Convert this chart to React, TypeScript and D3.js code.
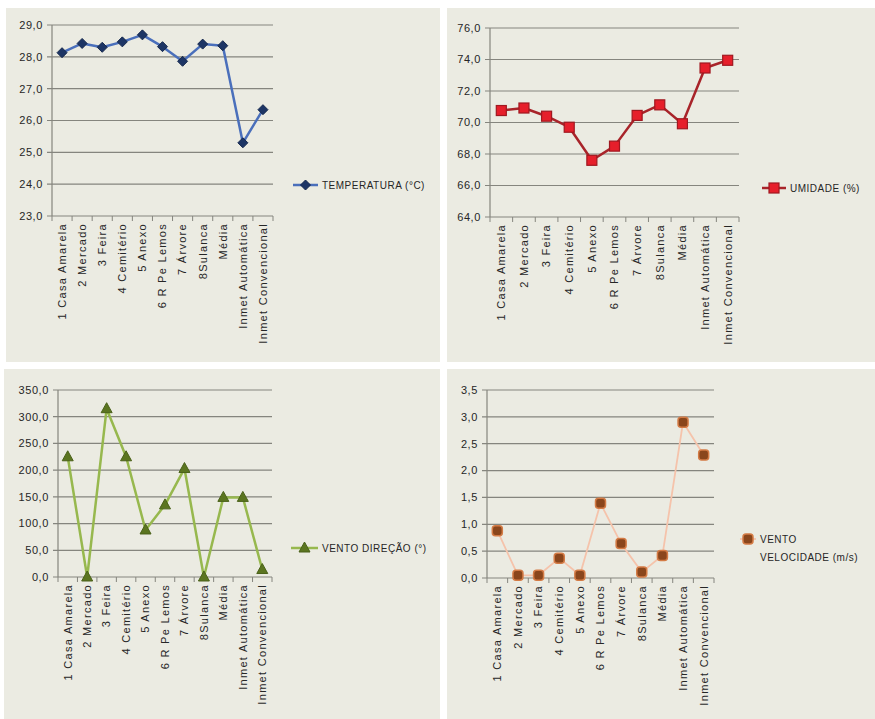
import * as React from 'react'
import * as d3 from 'd3'

// categories shared by the four panels
const stations = [
	'1 Casa Amarela', '2 Mercado', '3 Feira', '4 Cemitério', '5 Anexo', '6 R Pe Lemos',
	'7 Árvore', '8Sulanca', 'Média', 'Inmet Automática', 'Inmet Convencional',
]

const temperatura = [28.13, 28.42, 28.3, 28.47, 28.69, 28.32, 27.86, 28.4, 28.35, 25.3, 26.34]
const umidade = [70.76, 70.92, 70.4, 69.7, 67.6, 68.5, 70.45, 71.12, 69.92, 73.46, 73.95]
const ventoDirecao = [225, 0, 315, 225, 88, 135, 203, 0, 149, 149, 14]
const ventoVelocidade = [0.88, 0.05, 0.05, 0.37, 0.05, 1.39, 0.64, 0.11, 0.42, 2.9, 2.29]

const tempTicks = [23, 24, 25, 26, 27, 28, 29]
const umidTicks = [64, 66, 68, 70, 72, 74, 76]
const dirTicks = [0, 50, 100, 150, 200, 250, 300, 350]
const velTicks = [0, 0.5, 1, 1.5, 2, 2.5, 3, 3.5]

const BG = '#ebebe2'
const GRID = '#85857e'
const TXT = '#262626'
const FONT = '"Liberation Sans", Arial, sans-serif'

type Marker = 'diamond' | 'square' | 'triangle' | 'circle'

interface PanelProps {
	box: { x: number, y: number, w: number, h: number }
	plot: { left: number, right: number, top: number, bottom: number }
	values: number[]
	ticks: number[]
	label: string[]
	legend: { x1: number, x2: number, y: number }
	lineColor: string
	lineWidth: number
	markerFill: string
	markerStroke: string
	marker: Marker
}

function drawMarker(kind: Marker, x: number, y: number, fill: string, stroke: string, key?: any) {
	if (kind === 'diamond')
		return <path key={key} d={`M${x},${y - 5}L${x + 5},${y}L${x},${y + 5}L${x - 5},${y}Z`} fill={fill} stroke={stroke} strokeWidth={1} />
	if (kind === 'square')
		return <rect key={key} x={x - 5} y={y - 5} width={10} height={10} fill={fill} stroke={stroke} strokeWidth={1.2} />
	if (kind === 'triangle')
		return <path key={key} d={`M${x},${y - 6}L${x + 5.5},${y + 4}L${x - 5.5},${y + 4}Z`} fill={fill} stroke={stroke} strokeWidth={1} />
	return <rect key={key} x={x - 5} y={y - 5} width={10} height={10} rx={3} fill={fill} stroke={stroke} strokeWidth={1.5} />
}

const Panel: React.FC<PanelProps> = (p) => {
	const x = d3.scaleBand().domain(stations).range([p.plot.left, p.plot.right])
	const y = d3.scaleLinear()
		.domain([p.ticks[0], p.ticks[p.ticks.length - 1]])
		.range([p.plot.bottom, p.plot.top])
	const cx = (s: string) => x(s)! + x.bandwidth() / 2
	const line = d3.line<number>()
		.x((_, i) => cx(stations[i]))
		.y(d => y(d))
	const fmt = (v: number) => v.toFixed(1).replace('.', ',')
	const bounds = stations.map(s => x(s)!).concat([p.plot.right])

	return (
		<g>
			<rect x={p.box.x} y={p.box.y} width={p.box.w} height={p.box.h} fill={BG} />
			{p.ticks.map(t => (
				<g key={t}>
					<line x1={p.plot.left - 5} x2={p.plot.right} y1={y(t)} y2={y(t)} stroke={GRID} strokeWidth={1.2} />
					<text x={p.plot.left - 9} y={y(t)} dy="0.35em" textAnchor="end" fontSize={11}
						letterSpacing={0.6} fill={TXT}>{fmt(t)}</text>
				</g>
			))}
			<line x1={p.plot.left} x2={p.plot.left} y1={p.plot.top} y2={p.plot.bottom} stroke={GRID} strokeWidth={1.2} />
			{bounds.map((b, i) => (
				<line key={i} x1={b} x2={b} y1={p.plot.bottom} y2={p.plot.bottom + 5} stroke={GRID} strokeWidth={1} />
			))}
			{stations.map(s => (
				<text key={s} transform={`translate(${cx(s)},${p.plot.bottom + 7}) rotate(-90)`} dy="0.35em"
					textAnchor="end" fontSize={11} letterSpacing={1.3} fill={TXT}>{s}</text>
			))}
			<path d={line(p.values)!} fill="none" stroke={p.lineColor} strokeWidth={p.lineWidth} strokeLinejoin="round" />
			{p.values.map((v, i) => drawMarker(p.marker, cx(stations[i]), y(v), p.markerFill, p.markerStroke, i))}
			<line x1={p.legend.x1} x2={p.legend.x2} y1={p.legend.y} y2={p.legend.y} stroke={p.lineColor} strokeWidth={p.lineWidth} />
			{drawMarker(p.marker, (p.legend.x1 + p.legend.x2) / 2, p.legend.y, p.markerFill, p.markerStroke)}
			{p.label.map((l, i) => (
				<text key={i} x={p.legend.x2 + 4} y={p.legend.y + i * 18} dy="0.35em" fontSize={10}
					letterSpacing={0.5} fill={TXT}>{l}</text>
			))}
		</g>
	)
}

const App: React.FC = () => {
	return (
		<svg width={875} height={719} style={{ position: 'absolute', left: 0, top: 0, fontFamily: FONT }}>
			<rect width={875} height={719} fill="#ffffff" />
			<Panel box={{ x: 6, y: 8, w: 434, h: 354 }} plot={{ left: 52, right: 273, top: 25, bottom: 216 }}
				values={temperatura} ticks={tempTicks} label={['TEMPERATURA (°C)']}
				legend={{ x1: 293, x2: 318, y: 185 }} lineColor="#4a6fbb" lineWidth={2.5}
				markerFill="#1d3565" markerStroke="#15284d" marker="diamond" />
			<Panel box={{ x: 447, y: 8, w: 428, h: 354 }} plot={{ left: 490, right: 739, top: 28, bottom: 217 }}
				values={umidade} ticks={umidTicks} label={['UMIDADE (%)']}
				legend={{ x1: 762, x2: 786, y: 188 }} lineColor="#a8242a" lineWidth={2.5}
				markerFill="#e61f2b" markerStroke="#a01820" marker="square" />
			<Panel box={{ x: 4, y: 369, w: 436, h: 350 }} plot={{ left: 58, right: 272, top: 390, bottom: 577 }}
				values={ventoDirecao} ticks={dirTicks} label={['VENTO DIREÇÃO (°)']}
				legend={{ x1: 291, x2: 318, y: 548 }} lineColor="#97b84e" lineWidth={2.5}
				markerFill="#5b7520" markerStroke="#4a6119" marker="triangle" />
			<Panel box={{ x: 447, y: 369, w: 428, h: 350 }} plot={{ left: 487, right: 714, top: 390, bottom: 578 }}
				values={ventoVelocidade} ticks={velTicks} label={['VENTO', 'VELOCIDADE (m/s)']}
				legend={{ x1: 740, x2: 756, y: 539 }} lineColor="#f5c3ab" lineWidth={1.8}
				markerFill="#8a461c" markerStroke="#d47b45" marker="circle" />
		</svg>
	)
}

export default App
